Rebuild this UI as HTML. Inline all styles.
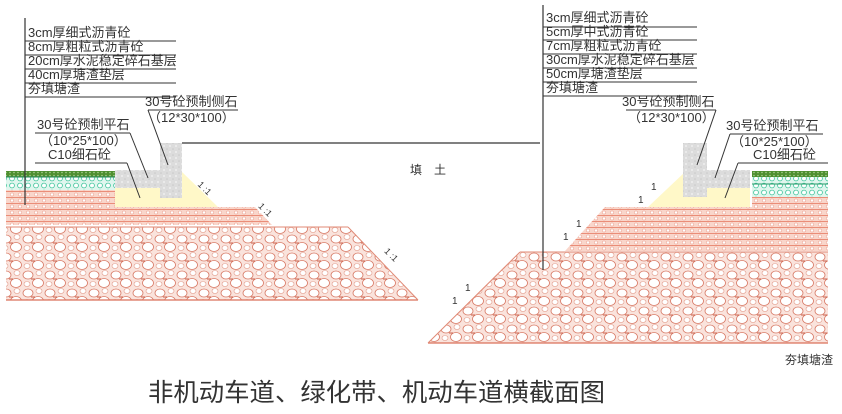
<!DOCTYPE html>
<html><head><meta charset="utf-8"><style>
html,body{margin:0;padding:0;background:#fff;width:842px;height:414px;overflow:hidden}
svg{display:block}
text{font-family:"Liberation Sans","Noto Sans CJK SC",sans-serif;fill:#333}
</style></head><body>
<svg width="842" height="414" viewBox="0 0 842 414">
<defs>
<pattern id="sal" width="8" height="6" patternUnits="userSpaceOnUse">
<rect width="8" height="6" fill="#f9d6cb"/>
<line x1="0" y1="5.5" x2="8" y2="5.5" stroke="#ea8d78" stroke-width="1"/>
<circle cx="4" cy="2.5" r="1.6" fill="#fff" stroke="#f0a998" stroke-width="0.6"/>
</pattern>
<pattern id="rock" width="22" height="18" patternUnits="userSpaceOnUse">
<rect width="22" height="18" fill="#fae3dc"/>
<ellipse cx="6" cy="5" rx="5" ry="4" fill="#fff" stroke="#d87a66" stroke-width="0.8"/>
<ellipse cx="16" cy="13" rx="5.5" ry="4.5" fill="#fff" stroke="#d87a66" stroke-width="0.8"/>
<ellipse cx="17" cy="3" rx="3" ry="2.5" fill="#fff" stroke="#e29a89" stroke-width="0.6"/>
<ellipse cx="5" cy="14" rx="3" ry="2.5" fill="#fff" stroke="#e29a89" stroke-width="0.6"/>
<line x1="9" y1="9" x2="13" y2="9" stroke="#c9604c" stroke-width="1"/>
</pattern>
<pattern id="cyan" width="8" height="7" patternUnits="userSpaceOnUse">
<rect width="8" height="7" fill="#e0f6ee"/>
<circle cx="4" cy="3.5" r="2.4" fill="#fff" stroke="#3cc49a" stroke-width="0.8"/>
</pattern>
<pattern id="grn" width="4" height="3" patternUnits="userSpaceOnUse">
<rect width="4" height="3" fill="#4e8f30"/><circle cx="2" cy="1.5" r="0.8" fill="#a9d08e"/>
</pattern>
<pattern id="gry" width="6" height="6" patternUnits="userSpaceOnUse">
<rect width="6" height="6" fill="#dcdcdc"/><circle cx="2" cy="2" r="1" fill="#eee"/><circle cx="5" cy="5" r="0.8" fill="#c8c8c8"/>
</pattern>
</defs>

<!-- LEFT -->
<polygon points="6,227 348,227 418,300 6,300" fill="url(#rock)"/>
<line x1="6" y1="227" x2="348" y2="227" stroke="#e08a76"/>
<line x1="6" y1="300" x2="418" y2="300" stroke="#d9705a" stroke-width="1.3"/>
<line x1="348" y1="227" x2="418" y2="300" stroke="#e08a76"/>
<polygon points="6,190 115,190 115,207 255,207 272,225 6,225" fill="url(#sal)"/>
<polygon points="115,188 182,188 182,172 218,207 115,207" fill="#fff8c8"/>
<rect x="6" y="171" width="109" height="6" fill="url(#grn)"/>
<rect x="6" y="177" width="109" height="13" fill="url(#cyan)"/>
<line x1="6" y1="177" x2="115" y2="177" stroke="#2a8a5a"/>
<rect x="115" y="170" width="45" height="18" fill="url(#gry)"/>
<rect x="160" y="143" width="22" height="55" fill="url(#gry)"/>
<line x1="182" y1="143" x2="540" y2="143" stroke="#000"/>
<line x1="25" y1="18" x2="25" y2="205" stroke="#333" stroke-width="1.2"/>
<g stroke="#333" stroke-width="1">
<line x1="25" y1="41" x2="176" y2="41"/><line x1="25" y1="55" x2="176" y2="55"/>
<line x1="25" y1="69" x2="176" y2="69"/><line x1="25" y1="83" x2="176" y2="83"/>
<line x1="25" y1="97" x2="176" y2="97"/>
<line x1="148" y1="110" x2="238" y2="110"/><line x1="148" y1="110" x2="168" y2="165"/>
<line x1="35" y1="133" x2="130" y2="133"/><line x1="130" y1="133" x2="148" y2="178"/>
<line x1="35" y1="163" x2="127" y2="163"/><line x1="127" y1="163" x2="140" y2="198"/>
</g>
<g font-size="13">
<text x="28" y="37">3cm厚细式沥青砼</text>
<text x="28" y="51">8cm厚粗粒式沥青砼</text>
<text x="28" y="65">20cm厚水泥稳定碎石基层</text>
<text x="28" y="79">40cm厚塘渣垫层</text>
<text x="28" y="93">夯填塘渣</text>
<text x="145" y="106">30号砼预制侧石</text>
<text x="148" y="122">（12*30*100）</text>
<text x="37" y="129">30号砼预制平石</text>
<text x="40" y="145">（10*25*100）</text>
<text x="48" y="159">C10细石砼</text>
<text x="198" y="187" font-size="9" transform="rotate(45 200 185)">1 :1</text>
<text x="258" y="210" font-size="9" transform="rotate(45 262 208)">1 :1</text>
<text x="384" y="255" font-size="9" transform="rotate(45 388 253)">1 :1</text>
<text x="410" y="174" font-size="12">填　土</text>
</g>

<!-- RIGHT -->
<polygon points="520,252 828,252 828,343 428,343" fill="url(#rock)"/>
<line x1="520" y1="252" x2="828" y2="252" stroke="#e08a76"/>
<line x1="428" y1="343" x2="828" y2="343" stroke="#d9705a" stroke-width="1.3"/>
<line x1="520" y1="252" x2="428" y2="343" stroke="#e08a76"/>
<polygon points="605,207 828,207 828,251 565,251" fill="url(#sal)"/>
<polygon points="685,172 685,188 750,188 750,207 648,207" fill="#fff8c8"/>
<rect x="752" y="171" width="76" height="6" fill="url(#grn)"/>
<rect x="752" y="177" width="76" height="20" fill="url(#cyan)"/>
<line x1="752" y1="184" x2="828" y2="184" stroke="#2a9a6a"/>
<rect x="752" y="197" width="76" height="10" fill="url(#sal)"/>
<rect x="707" y="170" width="43" height="18" fill="url(#gry)"/>
<rect x="683" y="143" width="24" height="54" fill="url(#gry)"/>
<line x1="543" y1="5" x2="543" y2="270" stroke="#333" stroke-width="1.2"/>
<g stroke="#333" stroke-width="1">
<line x1="543" y1="27" x2="697" y2="27"/><line x1="543" y1="40" x2="697" y2="40"/>
<line x1="543" y1="54" x2="697" y2="54"/><line x1="543" y1="68" x2="697" y2="68"/>
<line x1="543" y1="82" x2="697" y2="82"/><line x1="543" y1="96" x2="697" y2="96"/>
<line x1="626" y1="110" x2="716" y2="110"/><line x1="716" y1="110" x2="697" y2="165"/>
<line x1="730" y1="134" x2="823" y2="134"/><line x1="730" y1="134" x2="715" y2="178"/>
<line x1="738" y1="163" x2="828" y2="163"/><line x1="738" y1="163" x2="725" y2="198"/>
</g>
<g font-size="13">
<text x="546" y="22">3cm厚细式沥青砼</text>
<text x="546" y="36">5cm厚中式沥青砼</text>
<text x="546" y="50">7cm厚粗粒式沥青砼</text>
<text x="546" y="64">30cm厚水泥稳定碎石基层</text>
<text x="546" y="78">50cm厚塘渣垫层</text>
<text x="546" y="92">夯填塘渣</text>
<text x="622" y="106">30号砼预制侧石</text>
<text x="628" y="122">（12*30*100）</text>
<text x="726" y="130">30号砼预制平石</text>
<text x="731" y="146">（10*25*100）</text>
<text x="753" y="159">C10细石砼</text>
<text x="785" y="364" font-size="12">夯填塘渣</text>
</g>
<g font-size="10" font-family="Liberation Serif,serif">
<text x="651" y="190">1</text><text x="638" y="203">1</text>
<text x="576" y="227">1</text><text x="563" y="240">1</text>
<text x="465" y="291">1</text><text x="452" y="304">1</text>
</g>
<text x="148" y="401" font-size="25" textLength="457" lengthAdjust="spacingAndGlyphs">非机动车道、绿化带、机动车道横截面图</text>
</svg>
</body></html>
